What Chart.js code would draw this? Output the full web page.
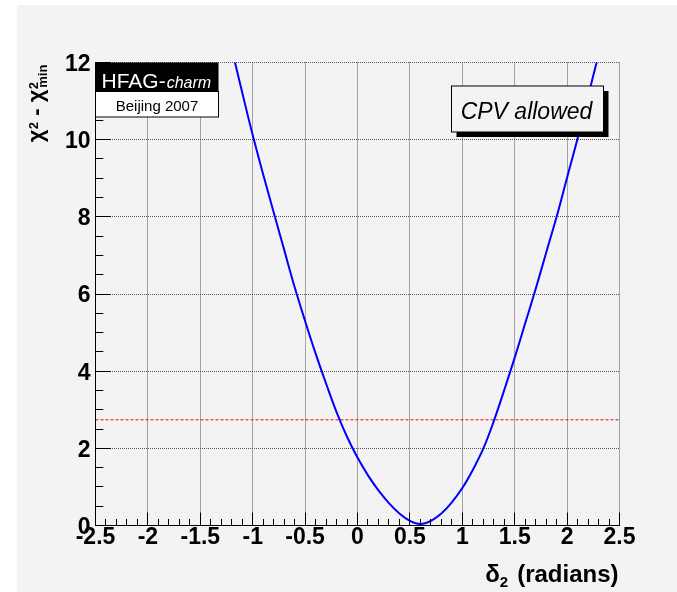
<!DOCTYPE html>
<html>
<head>
<meta charset="utf-8">
<script src="https://cdn.jsdelivr.net/npm/chart.js@4.4.1/dist/chart.umd.min.js"></script>
<style>
  html, body { margin: 0; padding: 0; background: #fff; }
  #wrap { width: 677px; height: 592px; }
</style>
</head>
<body>
<div id="wrap"><canvas id="chi2Chart" width="677" height="592"></canvas></div>
<script>
// chi2 scan versus the strong phase delta_2 (radians)
const deltaValues = [
  -1.2, -1.1, -1.0, -0.9, -0.8, -0.7, -0.6, -0.5, -0.4, -0.3, -0.2, -0.1,
   0.0,  0.1,  0.2,  0.3,  0.4,  0.5,  0.6,  0.7,  0.8,  0.9,  1.0,  1.1,
   1.2,  1.3,  1.4,  1.5,  1.6,  1.7,  1.8,  1.9,  2.0,  2.1,  2.2,  2.3
];
const chi2Values = [
  12.35, 11.22, 10.12, 9.10, 8.12, 7.15, 6.18, 5.30, 4.46, 3.68, 2.94, 2.30,
   1.76,  1.30,  0.91, 0.58, 0.31, 0.12, 0.04, 0.12, 0.31, 0.60, 0.97, 1.44,
   1.99,  2.70,  3.51, 4.35, 5.24, 6.13, 7.07, 8.00, 9.02, 10.03, 11.12, 12.20
];
const clLevel = 2.74;

const xTicks = [-2.5, -2, -1.5, -1, -0.5, 0, 0.5, 1, 1.5, 2, 2.5];
const xTickLabels = ['-2.5', '-2', '-1.5', '-1', '-0.5', '0', '0.5', '1', '1.5', '2', '2.5'];
const yTicks = [0, 2, 4, 6, 8, 10, 12];
const yTickLabels = ['0', '2', '4', '6', '8', '10', '12'];
const xMinorStep = 0.1;
const yMinorStep = 0.5;

const SANS = '"Liberation Sans", Arial, Helvetica, sans-serif';
const PAD_BG = '#f3f3f3';

// page background: white margin strip, grey pad
const padBackground = {
  id: 'padBackground',
  beforeDraw(chart) {
    const ctx = chart.ctx;
    ctx.save();
    ctx.fillStyle = '#fff';
    ctx.fillRect(0, 0, chart.width, chart.height);
    ctx.fillStyle = PAD_BG;
    ctx.fillRect(17, 5, chart.width - 17, chart.height - 5);
    ctx.restore();
  }
};

// tick marks pointing into the frame, major + minor
const innerTicks = {
  id: 'innerTicks',
  afterDatasetsDraw(chart) {
    const { ctx, chartArea: ca, scales } = chart;
    const x = scales.x, y = scales.y;
    ctx.save();
    ctx.strokeStyle = '#000';
    ctx.lineWidth = 1;
    ctx.beginPath();
    const nx = Math.round((x.max - x.min) / xMinorStep);
    for (let i = 0; i <= nx; i++) {
      const px = Math.round(x.getPixelForValue(x.min + i * xMinorStep) - 0.5) + 0.5;
      const len = i % 5 === 0 ? 13 : 6.5;
      ctx.moveTo(px, ca.bottom);
      ctx.lineTo(px, ca.bottom - len);
    }
    const ny = Math.round((y.max - y.min) / yMinorStep);
    for (let i = 0; i <= ny; i++) {
      const py = Math.round(y.getPixelForValue(y.min + i * yMinorStep) - 0.5) + 0.5;
      const len = i % 4 === 0 ? 15.5 : 7.8;
      ctx.moveTo(ca.left, py);
      ctx.lineTo(ca.left + len, py);
    }
    ctx.stroke();
    ctx.restore();
  }
};

function drawYTitle(ctx) {
  const big = 'bold 22px ' + SANS;
  const small = 'bold 13px ' + SANS;
  ctx.save();
  ctx.translate(42.5, 142.3);
  ctx.rotate(-Math.PI / 2);
  ctx.fillStyle = '#000';
  ctx.textAlign = 'left';
  ctx.textBaseline = 'alphabetic';
  let cx = 0;
  ctx.font = big;
  ctx.fillText('\u03c7', cx, 0);
  cx += ctx.measureText('\u03c7').width + 0.5;
  ctx.font = small;
  ctx.fillText('2', cx, -5);
  cx += ctx.measureText('2').width;
  ctx.font = big;
  ctx.fillText(' - ', cx, 0);
  cx += ctx.measureText(' - ').width;
  ctx.fillText('\u03c7', cx, 0);
  cx += ctx.measureText('\u03c7').width + 0.5;
  ctx.font = small;
  ctx.fillText('2', cx, -5);
  ctx.fillText('min', cx + 1.5, 4.2);
  ctx.restore();
}

function drawXTitle(ctx, right) {
  ctx.save();
  ctx.fillStyle = '#000';
  ctx.textBaseline = 'alphabetic';
  ctx.textAlign = 'right';
  ctx.font = 'bold 24px ' + SANS;
  ctx.fillText('(radians)', right, 582.3);
  let cx = right - ctx.measureText('(radians)').width - 9;
  ctx.font = 'bold 15px ' + SANS;
  ctx.fillText('2', cx, 587);
  cx -= ctx.measureText('2').width;
  ctx.font = 'bold 24px ' + SANS;
  ctx.fillText('\u03b4', cx, 582.3);
  ctx.restore();
}

function drawLogo(ctx, ca) {
  const w = 123;
  ctx.save();
  ctx.fillStyle = '#000';
  ctx.fillRect(ca.left, ca.top, w, 29);
  ctx.fillStyle = '#fff';
  ctx.textBaseline = 'alphabetic';
  ctx.textAlign = 'left';
  ctx.font = '21px ' + SANS;
  ctx.fillText('HFAG-', ca.left + 6, ca.top + 25);
  const wh = ctx.measureText('HFAG-').width;
  ctx.font = 'italic 16px ' + SANS;
  ctx.fillText('charm', ca.left + 6 + wh + 1, ca.top + 25);

  ctx.fillStyle = '#fff';
  ctx.fillRect(ca.left, ca.top + 29, w, 25.5);
  ctx.strokeStyle = '#000';
  ctx.lineWidth = 1;
  ctx.strokeRect(ca.left, ca.top + 29, w, 25.5);
  ctx.fillStyle = '#000';
  ctx.textAlign = 'center';
  ctx.font = '15px ' + SANS;
  ctx.fillText('Beijing 2007', ca.left + w / 2, ca.top + 48.5);
  ctx.restore();
}

function drawCpvLabel(ctx, ca) {
  const bx = ca.right - 168, by = ca.top + 23.5, bw = 152, bh = 46;
  ctx.save();
  ctx.fillStyle = '#000';
  ctx.fillRect(bx + 5, by + 5, bw, bh);
  ctx.fillStyle = PAD_BG;
  ctx.fillRect(bx, by, bw, bh);
  ctx.strokeStyle = '#000';
  ctx.lineWidth = 1;
  ctx.strokeRect(bx, by, bw, bh);
  ctx.fillStyle = '#000';
  ctx.textAlign = 'center';
  ctx.textBaseline = 'alphabetic';
  ctx.font = 'italic 23px ' + SANS;
  ctx.fillText('CPV allowed', bx + bw / 2 - 1, by + 33.3);
  ctx.restore();
}

const annotations = {
  id: 'annotations',
  afterDraw(chart) {
    const { ctx, chartArea: ca } = chart;
    drawYTitle(ctx);
    drawXTitle(ctx, ca.right - 1);
    drawLogo(ctx, ca);
    drawCpvLabel(ctx, ca);
  }
};

const tickFont = { family: SANS, weight: 'bold', size: 23, lineHeight: 1 };

new Chart(document.getElementById('chi2Chart'), {
  type: 'line',
  data: {
    datasets: [
      {
        data: deltaValues.map((d, i) => ({ x: d, y: chi2Values[i] })),
        borderColor: '#0000ff',
        borderWidth: 2,
        pointRadius: 0,
        tension: 0.4,
        clip: 0
      },
      {
        data: [{ x: xTicks[0], y: clLevel }, { x: xTicks[xTicks.length - 1], y: clLevel }],
        borderColor: '#ff0000',
        borderWidth: 1,
        borderDash: [3, 2],
        pointRadius: 0,
        clip: 0
      }
    ]
  },
  options: {
    responsive: false,
    animation: false,
    events: [],
    layout: { padding: { left: 0, top: 62.5, right: 57.5, bottom: 0 } },
    plugins: { legend: { display: false }, tooltip: { enabled: false } },
    scales: {
      x: {
        type: 'linear',
        min: xTicks[0],
        max: xTicks[xTicks.length - 1],
        afterBuildTicks: s => { s.ticks = xTicks.map(v => ({ value: v })); },
        afterFit: s => { s.height = 66.5; },
        ticks: {
          callback: (v, i) => xTickLabels[i],
          font: tickFont,
          color: '#000',
          padding: 1,
          maxRotation: 0,
          autoSkip: false
        },
        grid: { color: '#555', lineWidth: 1, drawTicks: false },
        border: { display: true, color: '#000', width: 1, dash: [1, 1] }
      },
      y: {
        type: 'linear',
        min: yTicks[0],
        max: yTicks[yTicks.length - 1],
        afterBuildTicks: s => { s.ticks = yTicks.map(v => ({ value: v })); },
        afterFit: s => { s.width = 95.5; },
        ticks: {
          callback: (v, i) => yTickLabels[i],
          font: tickFont,
          color: '#000',
          padding: 5,
          labelOffset: 2,
          autoSkip: false
        },
        grid: { color: '#555', lineWidth: 1, drawTicks: false },
        border: { display: true, color: '#000', width: 1, dash: [1, 1] }
      }
    }
  },
  plugins: [padBackground, innerTicks, annotations]
});
</script>
</body>
</html>
